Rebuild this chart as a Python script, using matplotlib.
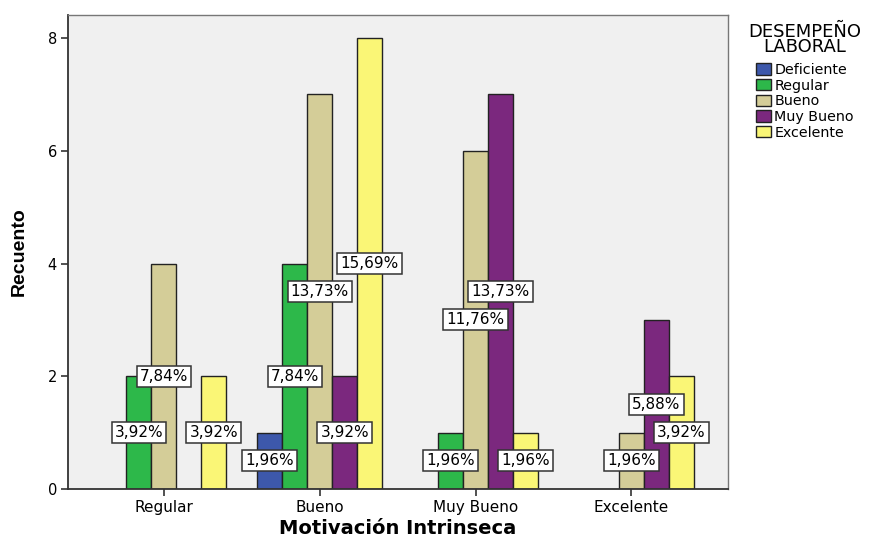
import numpy as np
import matplotlib
matplotlib.use("Agg")
import matplotlib.pyplot as plt
from matplotlib.patches import Patch

plt.rcParams['font.family'] = ['DejaVu Sans']

categories = ["Regular", "Bueno", "Muy Bueno", "Excelente"]
series_names = ["Deficiente", "Regular", "Bueno", "Muy Bueno", "Excelente"]
deficiente = [0, 1, 0, 0]
regular = [2, 4, 1, 0]
bueno = [4, 7, 6, 1]
muy_bueno = [0, 2, 7, 3]
excelente = [2, 8, 1, 2]
total = 51
colors = ["#3D58AB", "#2DB84A", "#D4CD98", "#7B287E", "#FAF676"]

series = [deficiente, regular, bueno, muy_bueno, excelente]

fig = plt.figure(figsize=(8.72, 5.39), dpi=100)
ax = fig.add_axes([0.078, 0.0928, 0.757, 0.8794])
ax.set_facecolor("#F0F0F0")

x = np.arange(len(categories))
w = 0.16
for i, (vals, col) in enumerate(zip(series, colors)):
    vals = np.array(vals, dtype=float)
    pos = x + (i - 2) * w
    mask = vals > 0
    ax.bar(pos[mask], vals[mask], width=w, color=col, edgecolor="#222222", linewidth=1.0, zorder=2)
    for p, v in zip(pos[mask], vals[mask]):
        pct = f"{v / total * 100:.2f}%".replace(".", ",")
        ax.text(p, v / 2, pct, ha="center", va="center", fontsize=11, zorder=5,
                bbox=dict(boxstyle="square,pad=0.2", facecolor="white", edgecolor="#333333", linewidth=1.1))

ax.set_xlim(-0.615, 3.62)
ax.set_ylim(0, 8.41)
ax.set_xticks(x)
ax.set_xticklabels(categories, fontsize=11)
ax.set_yticks([0, 2, 4, 6, 8])
ax.set_yticklabels(["0", "2", "4", "6", "8"], fontsize=10.5)
ax.tick_params(axis="both", direction="out", length=5, width=1.2, color="#333333", pad=3)
for s in ["left", "bottom"]:
    ax.spines[s].set_color("#333333")
    ax.spines[s].set_linewidth(1.3)
for s in ["top", "right"]:
    ax.spines[s].set_color("#777777")
    ax.spines[s].set_linewidth(1.0)

ax.set_xlabel("Motivación Intrinseca", fontsize=14, fontweight="bold", labelpad=3)
ax.set_ylabel("Recuento", fontsize=14, fontweight="bold", labelpad=14,
              family=["Liberation Sans", "DejaVu Sans"])

handles = [Patch(facecolor=c, edgecolor="#222222", linewidth=1.0) for c in colors]
leg = fig.legend(handles, series_names, title="DESEMPEÑO\nLABORAL", loc="upper center",
                 bbox_to_anchor=(0.9232, 0.968), frameon=False, fontsize=10.3, title_fontsize=13,
                 handlelength=1.0, handleheight=0.85, handletextpad=0.25, labelspacing=0.12,
                 borderaxespad=0)
leg.get_title().set_multialignment("center")
leg.get_title().set_linespacing(0.78)
leg._legend_box.sep = 5

fig.savefig("out.png", dpi=100)
